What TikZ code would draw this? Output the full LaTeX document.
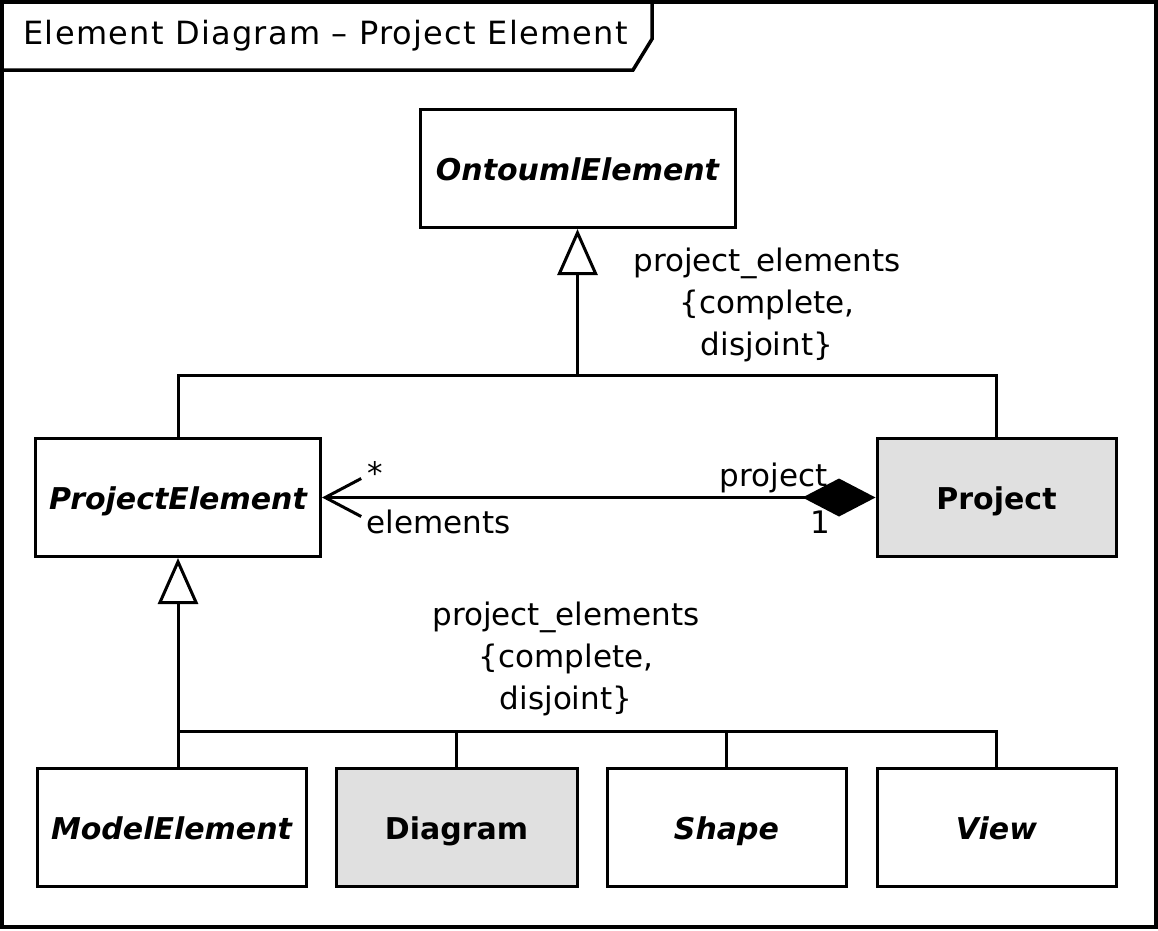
\documentclass[tikz,border=0pt]{standalone}
\usepackage{fontspec}
\setmainfont{DejaVu Sans}
\usepackage{xcolor}
\usetikzlibrary{arrows.meta, positioning, calc}
\definecolor{umlgray}{RGB}{224,224,224}

\begin{document}
\begin{tikzpicture}[x=1pt, y=-1pt, line width=3pt, every node/.style={font=\fontsize{31}{42}\selectfont}]
% Define styles for classes, generalizations and texts
\tikzstyle{block} = [draw, fill=white, rectangle, minimum height=118pt, line width=3pt, text height=28pt, text depth=4pt, font=\fontsize{30}{42}\selectfont\bfseries\itshape]
\tikzstyle{concrete} = [block, fill=umlgray, font=\fontsize{30}{42}\selectfont\bfseries]
\tikzstyle{constraint} = [align=center, inner sep=0pt]
\tikzstyle{gen} = [-{Triangle[open, length=46pt, width=40pt, fill=white]}]

% Frame and title tab
\useasboundingbox (0,0) rectangle (1158,930);
\draw[line width=3.5pt] (2,2) rectangle (1156,927);
\draw[line width=3.5pt] (2,70) -- (633,70) -- (652,39) -- (652,2);
\node[anchor=west, inner sep=0pt, font=\fontsize{32}{42}\selectfont\addfontfeature{LetterSpace=4}] (title) at (22,36) {Element Diagram – Project Element};

% Nodes placement
\node [block, minimum width=315pt] (ontoumlelement) at (577.5,168.5) {OntoumlElement};
\node [block, minimum width=285pt] (projectelement) at (178,497.5) {ProjectElement};
\node [concrete, minimum width=239pt] (project) at (996.5,497.5) {Project};
\node [block, minimum width=269pt] (modelelement) at (171.5,827) {ModelElement};
\node [concrete, minimum width=241pt, right of=modelelement, node distance=285pt] (diagram) {Diagram};
\node [block, minimum width=239pt, right of=diagram, node distance=270pt] (shape) {Shape};
\node [block, minimum width=239pt, right of=shape, node distance=270pt] (view) {View};

% Join points of the generalization sets
\coordinate (topjoin) at (577.5,375);
\coordinate (botjoin) at (178,731);

% Draw edges
\draw (projectelement.north) -- (projectelement.north |- topjoin) -- (project.north |- topjoin) -- (project.north);
\draw[gen] (topjoin) -- (ontoumlelement.south);
\draw[gen] (projectelement.south |- modelelement.north) -- (projectelement.south);
\draw (botjoin) -- (view.north |- botjoin) -- (view.north);
\draw (diagram.north |- botjoin) -- (diagram.north);
\draw (shape.north |- botjoin) -- (shape.north);
\draw[{Straight Barb[length=36pt, width=38pt]}-{Diamond[length=73pt, width=38pt]}] (projectelement) -- (project);

% Generalization set constraints
\node [constraint] (topset) at (767,305) {project\_elements\\\{complete,\\disjoint\}};
\node [constraint] (botset) at (566,659) {project\_elements\\\{complete,\\disjoint\}};

% Association ends
\node [anchor=base west, inner sep=0pt] (many) at (366,484) {*};
\node [anchor=base west, inner sep=0pt] (elements) at (365,533) {elements};
\node [anchor=base east, inner sep=0pt] (projectrole) at (829,486) {project};
\node [anchor=base, inner sep=0pt] (one) at (820,533) {1};
\end{tikzpicture}
\end{document}
